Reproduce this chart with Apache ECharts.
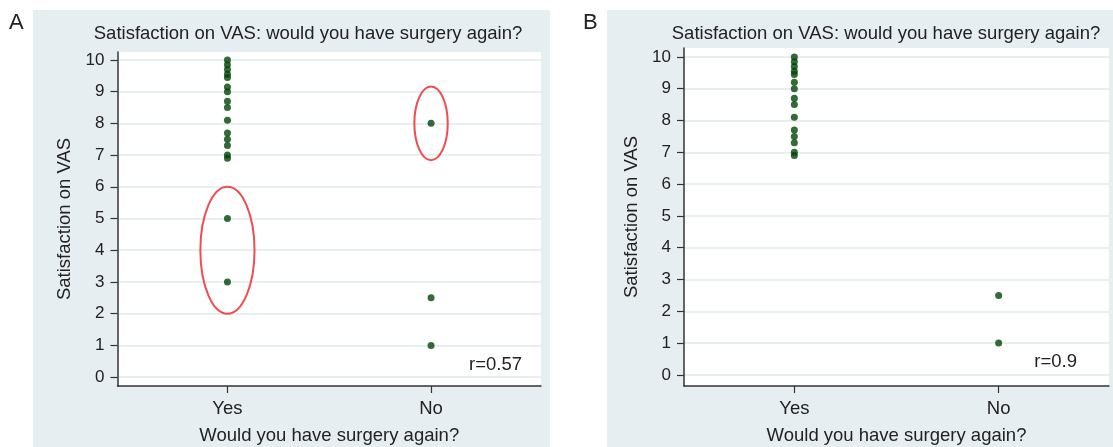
<!DOCTYPE html>
<html><head><meta charset="utf-8">
<script src="https://cdn.jsdelivr.net/npm/echarts@6/dist/echarts.min.js"></script>
<style>html,body{margin:0;padding:0;background:#fff}#c{width:1113px;height:447px}</style>
</head><body><div id="c"></div>
<script>
// ---- data ----
const categories = ['Yes', 'No'];
const yTicks = [0, 1, 2, 3, 4, 5, 6, 7, 8, 9, 10];
const panelLetters = ['A', 'B'];
const chartTitle = 'Satisfaction on VAS: would you have surgery again?';
const yName = 'Satisfaction on VAS';
const xName = 'Would you have surgery again?';
const yesA = [10, 9.85, 9.7, 9.55, 9.45, 9.15, 9.0, 8.7, 8.5, 8.1, 7.7, 7.5, 7.3, 7.0, 6.9, 5, 3];
const noA = [8, 2.5, 1];
const yesB = [10, 9.85, 9.7, 9.55, 9.45, 9.2, 9.0, 8.7, 8.5, 8.1, 7.7, 7.5, 7.3, 7.0, 6.9];
const noB = [2.5, 1];
// circled groups in panel A: [x category index, y centre, x radius, y radius] in data units
const circledA = [[0, 4, 0.133, 2.0], [1, 8, 0.082, 1.16]];
const correlations = ['r=0.57', 'r=0.9'];

// ---- styles ----
const FONT = '"Liberation Sans", Arial, Helvetica, sans-serif';
const TXT = '#222';
const BG = '#e7eef1';
const GREEN = '#004506';
const RED = '#ef4d4f';

function pts(yes, no) {
  return yes.map(v => [0, v]).concat(no.map(v => [1, v]));
}

function xAxis(gi) {
  return {
    type: 'value', gridIndex: gi, min: -0.54, max: 1.54,
    name: xName, nameLocation: 'middle', nameGap: 40,
    nameTextStyle: {fontFamily: FONT, fontSize: 18.5, color: TXT},
    axisLine: {show: true, onZero: false, lineStyle: {color: '#333', width: 1.5}},
    axisTick: {show: true, length: 7, customValues: [0, 1], lineStyle: {color: '#333', width: 1.2}},
    axisLabel: {customValues: [0, 1], formatter: v => categories[Math.round(v)], fontFamily: FONT, fontSize: 18.5, color: TXT, margin: 13},
    splitLine: {show: false}
  };
}
function yAxis(gi, min, max) {
  return {
    type: 'value', gridIndex: gi, min: min, max: max,
    name: yName, nameLocation: 'middle', nameGap: 43, nameRotate: 90,
    nameTextStyle: {fontFamily: FONT, fontSize: 18.5, color: TXT},
    axisLine: {show: true, onZero: false, lineStyle: {color: '#333', width: 1.5}},
    axisTick: {show: true, length: 7, customValues: yTicks, lineStyle: {color: '#333', width: 1.2}},
    axisLabel: {customValues: yTicks, fontFamily: FONT, fontSize: 17, color: TXT, margin: 13},
    splitLine: {show: true, lineStyle: {color: '#e8eff2', width: 2}}
  };
}

const chart = echarts.init(document.getElementById('c'), null, {renderer: 'canvas'});
chart.setOption({
  animation: false,
  backgroundColor: '#fff',
  title: [
    {text: chartTitle, left: 303, top: 19, textAlign: 'center', textStyle: {fontFamily: FONT, fontSize: 18.5, fontWeight: 'normal', color: TXT}},
    {text: chartTitle, left: 881, top: 19, textAlign: 'center', textStyle: {fontFamily: FONT, fontSize: 18.5, fontWeight: 'normal', color: TXT}}
  ],
  graphic: [
    {type: 'rect', z: -10, shape: {x: 33, y: 10, width: 517, height: 437}, style: {fill: BG}, silent: true},
    {type: 'rect', z: -10, shape: {x: 607, y: 10, width: 506, height: 437}, style: {fill: BG}, silent: true},
    {type: 'text', left: 9, top: 12, style: {text: panelLetters[0], font: '22px ' + FONT, fill: TXT}},
    {type: 'text', left: 583, top: 12, style: {text: panelLetters[1], font: '22px ' + FONT, fill: TXT}},
    {type: 'text', z: 10, right: 1113 - 522, top: 355, style: {text: correlations[0], font: '18.5px ' + FONT, fill: TXT}},
    {type: 'text', z: 10, right: 1113 - 1077, top: 352, style: {text: correlations[1], font: '18.5px ' + FONT, fill: TXT}}
  ],
  grid: [
    {left: 117.5, right: 1113 - 541, top: 52, bottom: 447 - 386, show: true, backgroundColor: '#fff', borderWidth: 0, containLabel: false, outerBoundsMode: 'none'},
    {left: 684, right: 1113 - 1109, top: 48, bottom: 447 - 386, show: true, backgroundColor: '#fff', borderWidth: 0, containLabel: false, outerBoundsMode: 'none'}
  ],
  xAxis: [xAxis(0), xAxis(1)],
  yAxis: [yAxis(0, -0.28, 10.25), yAxis(1, -0.35, 10.28)],
  series: [
    {type: 'scatter', xAxisIndex: 0, yAxisIndex: 0, data: pts(yesA, noA), symbolSize: 7, itemStyle: {color: GREEN}, z: 5},
    {type: 'scatter', xAxisIndex: 1, yAxisIndex: 1, data: pts(yesB, noB), symbolSize: 7, itemStyle: {color: GREEN}, z: 5},
    {
      type: 'custom', xAxisIndex: 0, yAxisIndex: 0, data: circledA, z: 4,
      encode: {x: 0, y: 1},
      renderItem: function (params, api) {
        const c = api.coord([api.value(0), api.value(1)]);
        const s = api.size([api.value(2), api.value(3)]);
        return {type: 'ellipse', shape: {cx: c[0], cy: c[1], rx: s[0], ry: s[1]}, style: {fill: 'none', stroke: RED, lineWidth: 2}};
      }
    }
  ]
});
</script></body></html>
